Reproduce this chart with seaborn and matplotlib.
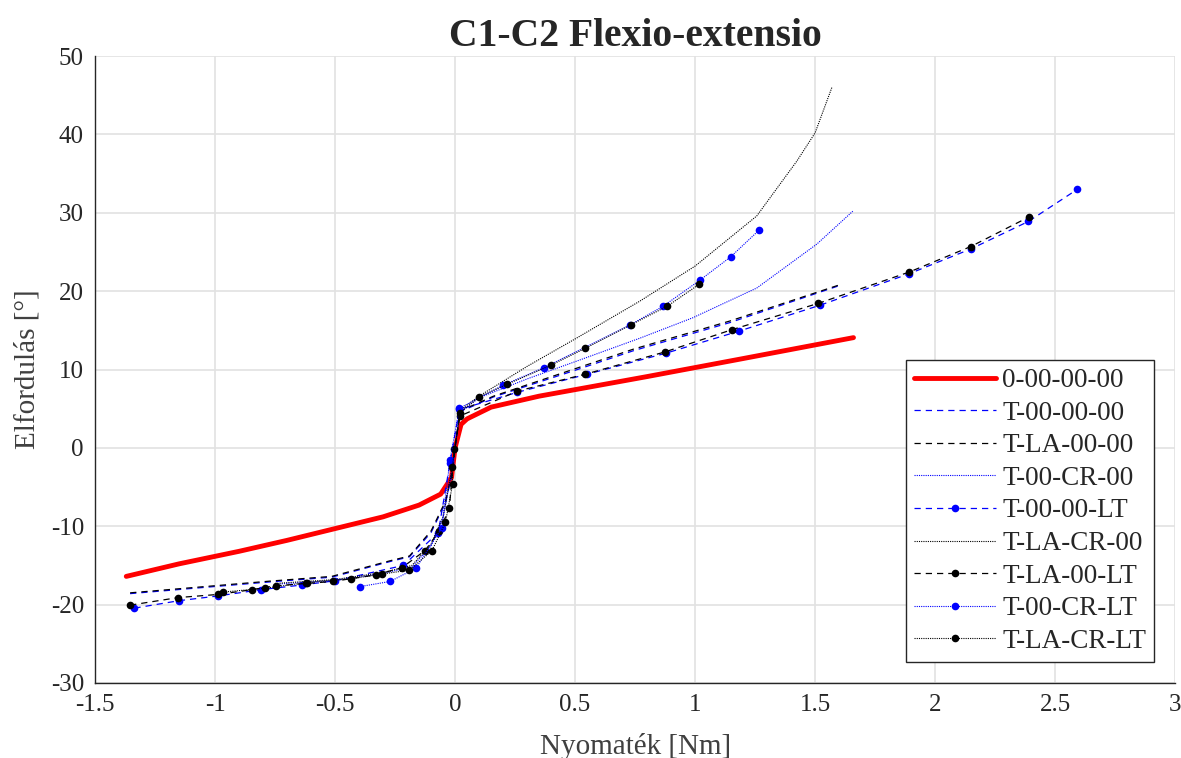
import numpy as np
import pandas as pd
import matplotlib.pyplot as plt
import seaborn as sns

# (Nm, degrees)
labels = ["0-00-00-00", "T-00-00-00", "T-LA-00-00", "T-00-CR-00", "T-00-00-LT",
          "T-LA-CR-00", "T-LA-00-LT", "T-00-CR-LT", "T-LA-CR-LT"]

x_intact = [-1.37, -1.15, -0.9, -0.7, -0.5, -0.3, -0.15, -0.06, -0.015, 0.0, 0.025, 0.05, 0.15, 0.35, 0.8, 1.2, 1.66]
y_intact = [-16.4, -14.8, -13.2, -11.8, -10.3, -8.8, -7.3, -5.9, -3.8, 0.0, 3.0, 3.7, 5.2, 6.6, 9.1, 11.4, 14.07]

x_t = [-1.354, -0.77, -0.514, -0.27, -0.19, -0.1, -0.04, -0.01, 0.0, 0.02, 0.16, 0.5, 0.743, 1.146, 1.60]
y_t = [-18.6, -17.1, -16.5, -14.5, -13.9, -10.8, -7.0, -3.0, 0.0, 4.6, 6.5, 9.9, 12.4, 16.0, 20.7]

x_tla = [-1.354, -0.77, -0.514, -0.27, -0.19, -0.1, -0.04, -0.01, 0.0, 0.02, 0.16, 0.5, 0.743, 1.146, 1.611]
y_tla = [-18.5, -17.0, -16.4, -14.4, -13.8, -10.6, -6.8, -2.8, 0.0, 4.7, 6.6, 10.1, 12.6, 16.2, 20.9]

x_tcr = [-0.75, -0.5, -0.3, -0.18, -0.1, -0.05, -0.02, 0.0, 0.02, 0.1, 0.3, 0.5, 0.77, 0.99, 1.257, 1.507, 1.657]
y_tcr = [-17.4, -16.9, -16.0, -15.2, -12.5, -9.0, -4.0, 0.0, 4.5, 6.4, 8.8, 11.0, 14.0, 16.6, 20.4, 26.0, 30.2]

x_tlt = [-1.336, -1.15, -0.989, -0.81, -0.639, -0.5, -0.215, -0.07, -0.021, 0.018, 0.26, 0.55, 0.88, 1.183, 1.52, 1.89, 2.15, 2.389, 2.593]
y_tlt = [-20.45, -19.5, -18.9, -18.1, -17.5, -16.96, -15.0, -10.8, -1.87, 4.9, 7.1, 9.4, 12.1, 14.9, 18.2, 22.2, 25.4, 28.9, 33.0]

x_tlacr = [-0.75, -0.5, -0.3, -0.18, -0.1, -0.05, -0.02, 0.0, 0.02, 0.1, 0.3, 0.5, 0.771, 1.0, 1.257, 1.424, 1.5, 1.57]
y_tlacr = [-17.3, -16.8, -15.9, -15.0, -12.3, -8.8, -3.8, 0.0, 4.8, 6.6, 10.4, 13.9, 18.75, 23.2, 29.6, 36.6, 40.2, 46.0]

x_tlalt = [-1.354, -1.153, -0.986, -0.847, -0.747, -0.618, -0.51, -0.329, -0.222, -0.125, -0.065, -0.024, -0.003, 0.021, 0.26, 0.542, 0.875, 1.155, 1.514, 1.893, 2.149, 2.393]
y_tlalt = [-20.07, -19.1, -18.7, -18.1, -17.6, -17.3, -17.05, -16.2, -15.3, -13.1, -10.6, -7.7, -0.17, 4.08, 7.25, 9.4, 12.25, 15.1, 18.45, 22.45, 25.7, 29.5]

x_tcrlt = [-0.396, -0.271, -0.1625, -0.056, -0.021, 0.018, 0.2, 0.371, 0.73, 0.868, 1.02, 1.149, 1.267]
y_tcrlt = [-17.7, -17.05, -15.35, -10.25, -1.5, 5.06, 8.0, 10.25, 15.7, 18.1, 21.4, 24.4, 27.8]

x_tlacrlt = [-0.965, -0.79, -0.62, -0.433, -0.305, -0.19, -0.096, -0.04, -0.01, -0.012, 0.021, 0.101, 0.215, 0.399, 0.542, 0.732, 0.885, 1.018]
y_tlacrlt = [-18.4, -17.9, -17.2, -16.7, -16.1, -15.6, -13.1, -9.5, -4.55, -2.5, 4.5, 6.5, 8.1, 10.55, 12.7, 15.7, 18.1, 20.9]

x_ticks = [-1.5, -1, -0.5, 0, 0.5, 1, 1.5, 2, 2.5, 3]
x_ticklabels = ["-1.5", "-1", "-0.5", "0", "0.5", "1", "1.5", "2", "2.5", "3"]
y_ticks = [-30, -20, -10, 0, 10, 20, 30, 40, 50]
y_ticklabels = ["-30", "-20", "-10", "0", "10", "20", "30", "40", "50"]

series = [
    (x_intact, y_intact), (x_t, y_t), (x_tla, y_tla), (x_tcr, y_tcr), (x_tlt, y_tlt),
    (x_tlacr, y_tlacr), (x_tlalt, y_tlalt), (x_tcrlt, y_tcrlt), (x_tlacrlt, y_tlacrlt),
]

dash = (0, (5, 4))
dot = (0, (1, 1))
styles = [
    dict(color='red', linestyle='-', linewidth=3.5),
    dict(color='blue', linestyle=dash, linewidth=0.9),
    dict(color='black', linestyle=dash, linewidth=0.9),
    dict(color='blue', linestyle=dot, linewidth=0.8),
    dict(color='blue', linestyle=dash, linewidth=0.9, marker='o', markersize=5.5, markeredgewidth=0),
    dict(color='black', linestyle=dot, linewidth=0.8),
    dict(color='black', linestyle=dash, linewidth=0.9, marker='o', markersize=5.5, markeredgewidth=0),
    dict(color='blue', linestyle=dot, linewidth=0.8, marker='o', markersize=5.5, markeredgewidth=0),
    dict(color='black', linestyle=dot, linewidth=0.8, marker='o', markersize=5.5, markeredgewidth=0),
]

sns.set_style("whitegrid")
plt.rcParams['font.family'] = ['Liberation Serif', 'DejaVu Serif']

fig = plt.figure(figsize=(11.81, 7.58), dpi=100)
ax = fig.add_axes([0.0805, 0.099, 0.9145, 0.827])

for name, (xs, ys), st in zip(labels, series, styles):
    df = pd.DataFrame({'x': xs, 'y': ys})
    sns.lineplot(data=df, x='x', y='y', sort=False, estimator=None, ax=ax, label=name, **st)

ax.set_xlim(-1.5, 3)
ax.set_ylim(-30, 50)
ax.set_xticks(x_ticks)
ax.set_xticklabels(x_ticklabels)
ax.set_yticks(y_ticks)
ax.set_yticklabels(y_ticklabels)
ax.grid(True, color='#e2e2e2', linewidth=1.2)
ax.tick_params(direction='in', length=5, width=1, colors='#262626', labelsize=18, pad=8)
for side in ['top', 'right']:
    ax.spines[side].set_visible(False)
for side in ['left', 'bottom']:
    ax.spines[side].set_color('#262626')
    ax.spines[side].set_linewidth(1)

ax.set_xlabel("Nyomaték [Nm]", fontsize=21, color='#404040', labelpad=12)
ax.set_ylabel("Elfordulás [°]", fontsize=21, color='#404040', labelpad=7)
ax.set_title("C1-C2 Flexio-extensio", fontsize=28.5, fontweight='bold', pad=7)

leg = ax.legend(loc='lower left', bbox_to_anchor=(0.751, 0.0335), borderaxespad=0,
                fontsize=19.5, numpoints=1, handlelength=3.0, labelspacing=0.28,
                handletextpad=0.25, borderpad=0.3, fancybox=False, framealpha=1,
                edgecolor='#262626')
leg.get_frame().set_linewidth(1)

fig.savefig("out.png", dpi=100)
